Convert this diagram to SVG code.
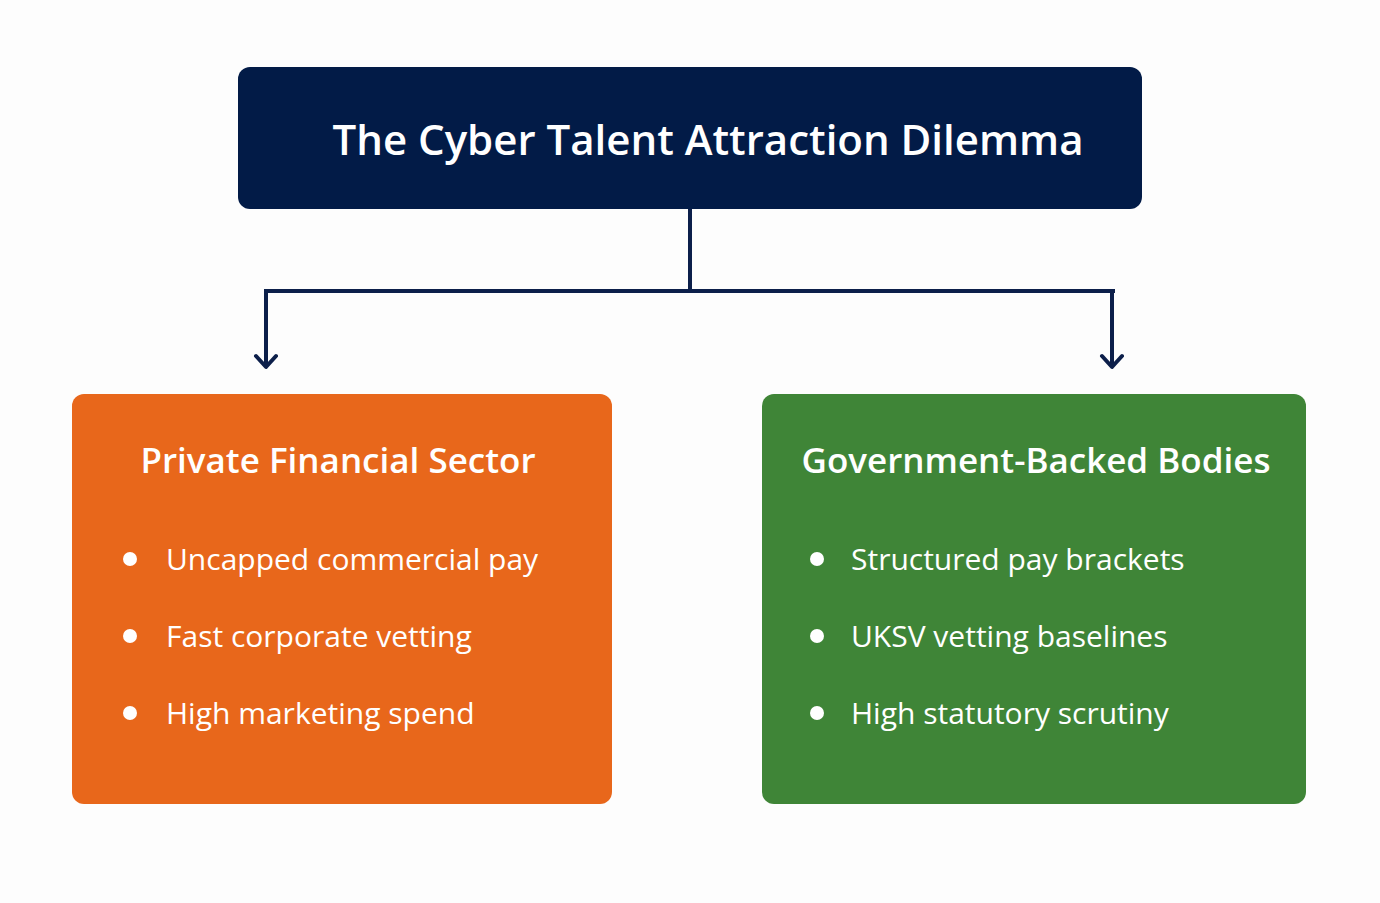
<svg xmlns="http://www.w3.org/2000/svg" width="1380" height="903" viewBox="0 0 1380 903">
<style>
.t{font-family:"Open Sans","Liberation Sans",sans-serif;fill:#fff;font-weight:600}
.h{font-size:35px}
.b{font-size:30px;font-weight:500}
.c{stroke:#0c1f4a;stroke-width:4;fill:none}
.ah{stroke:#0c1f4a;stroke-width:4;fill:none;stroke-linecap:round;stroke-linejoin:round}
</style>
<rect width="1380" height="903" fill="#fdfdfd"/>
<g id="title"><rect x="238" y="67" width="904" height="142" rx="12" fill="#021b47"/><text class="t" x="708" y="155" font-size="42" text-anchor="middle">The Cyber Talent Attraction Dilemma</text></g>
<g id="connectors">
<path class="c" d="M690 209 V291 M264 291 H1115"/>
<path class="c" d="M266 289 V366 M1112 289 V366"/>
<path class="ah" d="M256 356 L266 367 L276 356 M1102 356 L1112 367 L1122 356"/>
</g>
<g id="private"><rect x="72" y="394" width="540" height="410" rx="12" fill="#e8671b"/>
<text class="t h" x="338" y="473" text-anchor="middle">Private Financial Sector</text>
<g fill="#fff"><circle cx="130" cy="559" r="7"/><circle cx="130" cy="636" r="7"/><circle cx="130" cy="713" r="7"/></g>
<text class="t b" x="166" y="570">Uncapped commercial pay</text>
<text class="t b" x="166" y="647">Fast corporate vetting</text>
<text class="t b" x="166" y="724">High marketing spend</text></g>
<g id="gov"><rect x="762" y="394" width="544" height="410" rx="12" fill="#3f8537"/>
<text class="t h" x="1036" y="473" text-anchor="middle">Government-Backed Bodies</text>
<g fill="#fff"><circle cx="817" cy="559" r="7"/><circle cx="817" cy="636" r="7"/><circle cx="817" cy="713" r="7"/></g>
<text class="t b" x="851" y="570">Structured pay brackets</text>
<text class="t b" x="851" y="647">UKSV vetting baselines</text>
<text class="t b" x="851" y="724">High statutory scrutiny</text></g>
</svg>
